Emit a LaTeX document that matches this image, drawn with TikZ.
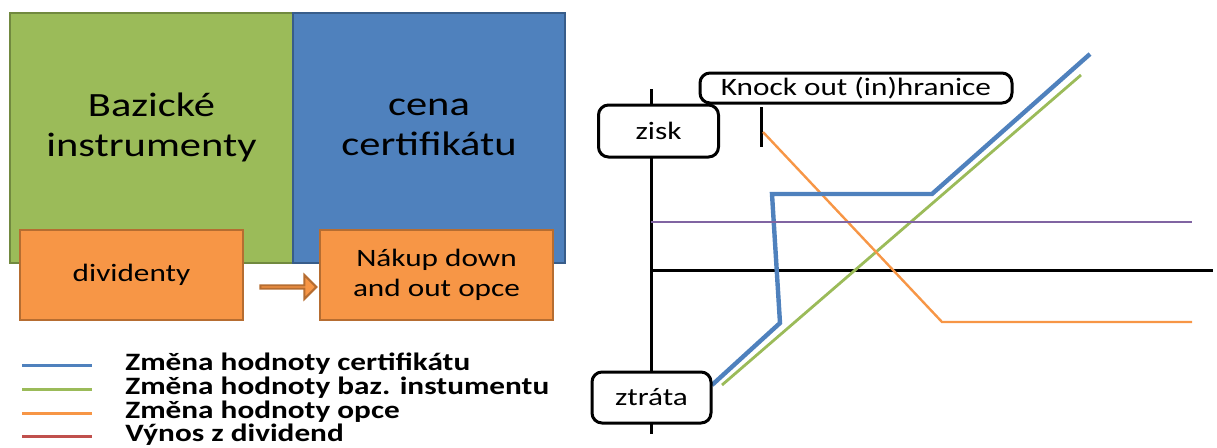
\documentclass[tikz,border=0pt]{standalone}
\usepackage{fontspec}
\setmainfont[FakeStretch=1.25]{Carlito}
\usetikzlibrary{positioning,shapes.arrows}
\definecolor{grn}{HTML}{9BBB59}
\definecolor{grndark}{HTML}{71893F}
\definecolor{blu}{HTML}{4F81BD}
\definecolor{bludark}{HTML}{385D8A}
\definecolor{org}{HTML}{F79646}
\definecolor{orgdark}{HTML}{B66D31}
\definecolor{pur}{HTML}{8064A2}
\definecolor{rd}{HTML}{C0504D}
\tikzstyle{bigbox} = [draw, line width=1.4pt, minimum height=125pt, inner sep=0pt]
\tikzstyle{bigtext} = [align=center, font=\fontsize{17}{20}\selectfont]
\tikzstyle{orgbox} = [draw=orgdark, fill=org, line width=1.3pt, minimum height=45pt, align=center, font=\fontsize{12.5}{15}\selectfont]
\tikzstyle{tag} = [draw, fill=white, line width=1.5pt, rounded corners=5pt, font=\fontsize{12.5}{15}\selectfont]
\tikzstyle{legtext} = [anchor=west, inner sep=0pt, font=\fontsize{12.5}{15}\selectfont\bfseries]

\begin{document}
\begin{tikzpicture}[x=0.5pt, y=-0.5pt]
			\useasboundingbox (0,0) rectangle (1217,447);
			% the two halves of the certificate
			\node[bigbox, fill=grn, draw=grndark, minimum width=141.5pt] (base) at (151.5,138) {};
			\node[bigbox, fill=blu, draw=bludark, minimum width=136pt] (cert) at (429,138) {};
			\node[bigtext] at ([yshift=5.5pt]base.center) {Bazické\\instrumenty};
			\node[bigtext] at ([yshift=5.5pt]cert.center) {cena\\certifikátu};
			\node[orgbox, minimum width=111.5pt] (div) at (131.5,275) {dividenty};
			\node[orgbox, minimum width=116.5pt] (opt) at (436.5,275) {Nákup down\\and out opce};
			\node[single arrow, draw=orgdark, fill=org, line width=1pt, inner sep=0pt,
				minimum height=28pt, minimum width=12pt, single arrow head extend=3pt] (go) at (287.5,287) {};
			% legend
			\foreach \y/\c/\t in {365/blu/Změna hodnoty certifikátu,
					389/grn/Změna hodnoty baz. instumentu,
					413/org/Změna hodnoty opce,
					436/rd/Výnos z dividend} {
				\draw[\c, line width=1.5pt] (22,\y) -- (92,\y);
				\node[legtext] at (125,\y-1) {\t};
			}
			% payoff chart
			\draw[line width=1.5pt] (651,89) -- (651,434);
			\draw[line width=1.5pt] (651,270) -- (1213,270);
			\draw[line width=1.5pt] (761,107) -- (761,147);
			\draw[grn, line width=1.4pt] (722,385) -- (1081,75);
			\draw[org, line width=1.2pt] (763,132) -- (942,322) -- (1192,322);
			\draw[blu, line width=2.2pt] (712,385) -- (780,323) -- (772,194) -- (932,194) -- (1090,54);
			\draw[pur, line width=1.2pt] (651,222) -- (1192,222);
			\node[tag, minimum width=60pt, minimum height=26pt] (zisk) at (658.5,131) {zisk};
			\node[tag, minimum width=59.5pt, minimum height=25.5pt] (loss) at (651.5,397.5) {ztráta};
			\node[tag, minimum width=156pt, minimum height=15pt, inner sep=1pt] (ko) at (856,88) {Knock out (in)hranice};
		\end{tikzpicture}
\end{document}
